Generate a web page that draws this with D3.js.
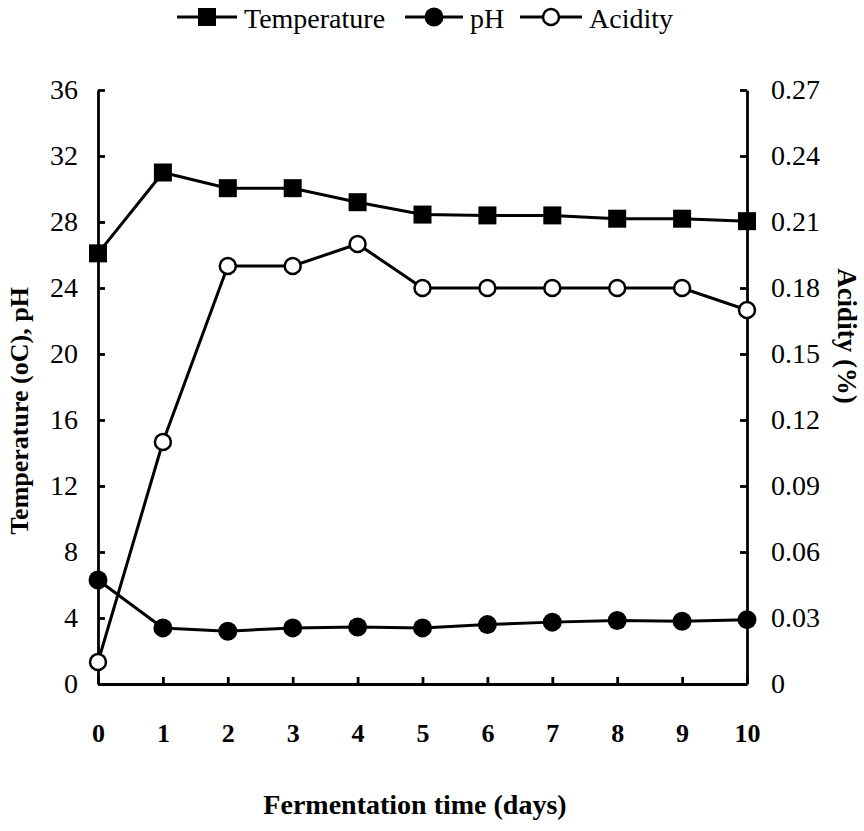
<!DOCTYPE html>
<html>
<head>
<meta charset="utf-8">
<script src="https://cdn.jsdelivr.net/npm/d3@7"></script>
<style>
  body { margin: 0; background: #fff; }
  svg text { font-family: "Liberation Serif", "Times New Roman", serif; fill: #000; }
</style>
</head>
<body>
<svg id="chart" width="864" height="831"></svg>
<script>
// data
const days = [0, 1, 2, 3, 4, 5, 6, 7, 8, 9, 10];
const temperature = [26.1, 31.0, 30.05, 30.05, 29.2, 28.45, 28.4, 28.4, 28.2, 28.2, 28.05];
const ph = [6.3, 3.4, 3.2, 3.4, 3.45, 3.4, 3.6, 3.75, 3.85, 3.8, 3.9];
const acidity = [0.01, 0.11, 0.19, 0.19, 0.2, 0.18, 0.18, 0.18, 0.18, 0.18, 0.17];
const leftTicks = [0, 4, 8, 12, 16, 20, 24, 28, 32, 36];
const rightTicks = [0, 0.03, 0.06, 0.09, 0.12, 0.15, 0.18, 0.21, 0.24, 0.27];

const svg = d3.select('#chart');
const margin = { left: 98, right: 117, top: 90, bottom: 147 };
const width = 864, height = 831;

const x = d3.scaleLinear().domain([0, 10]).range([margin.left, width - margin.right]);
const yL = d3.scaleLinear().domain([0, 36]).range([height - margin.bottom, margin.top]);
const yR = d3.scaleLinear().domain([0, 0.27]).range([height - margin.bottom, margin.top]);

// Axes (ticks point inward)
const xAxis = svg.append('g')
  .attr('transform', `translate(0,${height - margin.bottom})`)
  .call(d3.axisBottom(x).tickValues(days).tickSizeInner(-7).tickSizeOuter(0).tickPadding(40));
xAxis.selectAll('text')
  .style('font-size', '26px')
  .style('font-weight', 'bold');

const leftAxis = svg.append('g')
  .attr('transform', `translate(${margin.left},0)`)
  .call(d3.axisLeft(yL).tickValues(leftTicks).tickSizeInner(-7).tickSizeOuter(0).tickPadding(20));
leftAxis.selectAll('text').style('font-size', '28px');

const rightAxis = svg.append('g')
  .attr('transform', `translate(${width - margin.right},0)`)
  .call(d3.axisRight(yR).tickValues(rightTicks).tickSizeInner(-7).tickSizeOuter(0).tickPadding(24)
    .tickFormat(d => d === 0 ? '0' : d3.format('.2f')(d)));
rightAxis.selectAll('text').style('font-size', '28px');

svg.selectAll('.domain, .tick line')
  .attr('stroke', '#000')
  .attr('stroke-width', 2.8);

// Axis titles
svg.append('text')
  .attr('transform', 'translate(28,411) rotate(-90)')
  .attr('text-anchor', 'middle')
  .style('font-size', '26px')
  .style('font-weight', 'bold')
  .text('Temperature (oC), pH');

svg.append('text')
  .attr('transform', 'translate(838,336) rotate(90)')
  .attr('text-anchor', 'middle')
  .style('font-size', '27px')
  .style('font-weight', 'bold')
  .text('Acidity (%)');

svg.append('text')
  .attr('x', 415)
  .attr('y', 814)
  .attr('text-anchor', 'middle')
  .style('font-size', '28px')
  .style('font-weight', 'bold')
  .text('Fermentation time (days)');

// Lines
const lineL = d3.line().x((d, i) => x(days[i])).y(d => yL(d));
const lineR = d3.line().x((d, i) => x(days[i])).y(d => yR(d));

const series = [
  { name: 'Temperature', values: temperature, line: lineL, y: yL, marker: 'square' },
  { name: 'pH', values: ph, line: lineL, y: yL, marker: 'dot' },
  { name: 'Acidity', values: acidity, line: lineR, y: yR, marker: 'circle' }
];

function drawMarker(g, type, cx, cy) {
  if (type === 'square') {
    g.append('rect')
      .attr('x', cx - 9).attr('y', cy - 9)
      .attr('width', 18).attr('height', 18)
      .attr('fill', '#000');
  } else if (type === 'dot') {
    g.append('circle')
      .attr('cx', cx).attr('cy', cy).attr('r', 9.5)
      .attr('fill', '#000');
  } else {
    g.append('circle')
      .attr('cx', cx).attr('cy', cy).attr('r', 8)
      .attr('fill', '#fff')
      .attr('stroke', '#000')
      .attr('stroke-width', 2.5);
  }
}

series.forEach(s => {
  svg.append('path')
    .datum(s.values)
    .attr('fill', 'none')
    .attr('stroke', '#000')
    .attr('stroke-width', 3)
    .attr('d', s.line);
  const g = svg.append('g');
  s.values.forEach((v, i) => drawMarker(g, s.marker, x(days[i]), s.y(v)));
});

// Legend
const legendItems = [
  { name: 'Temperature', marker: 'square', x: 177, w: 60 },
  { name: 'pH', marker: 'dot', x: 405, w: 58 },
  { name: 'Acidity', marker: 'circle', x: 520, w: 62 }
];
const legend = svg.append('g');
legendItems.forEach(it => {
  legend.append('line')
    .attr('x1', it.x).attr('x2', it.x + it.w)
    .attr('y1', 17).attr('y2', 17)
    .attr('stroke', '#000').attr('stroke-width', 3);
  drawMarker(legend, it.marker, it.x + it.w / 2, 17);
  legend.append('text')
    .attr('x', it.x + it.w + 7)
    .attr('y', 28)
    .style('font-size', '28px')
    .text(it.name);
});
</script>
</body>
</html>
